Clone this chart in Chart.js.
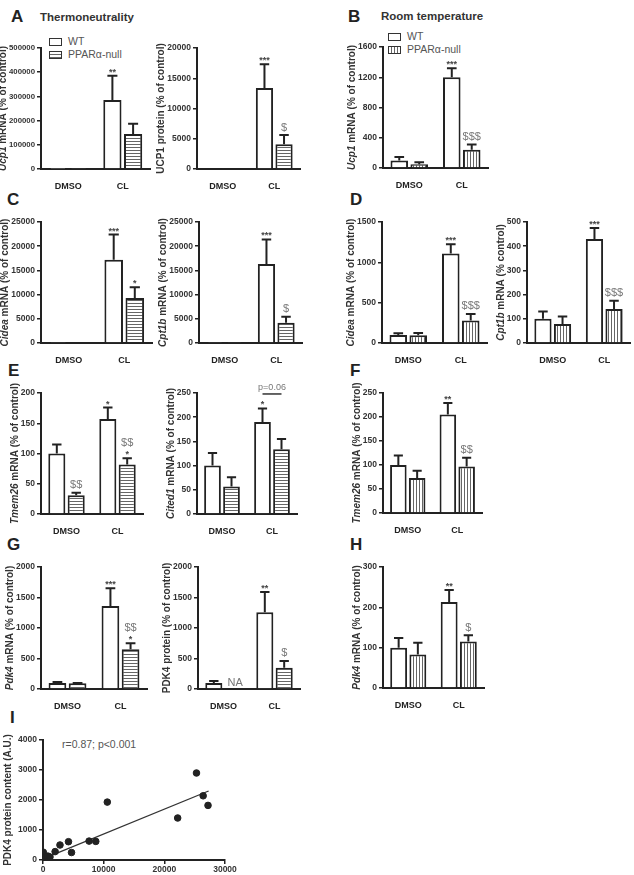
<!DOCTYPE html>
<html>
<head>
<meta charset="utf-8">
<script src="https://cdn.jsdelivr.net/npm/chart.js@4"></script>
<style>
body{margin:0;background:#fff;width:634px;height:875px;position:relative;overflow:hidden;font-family:"Liberation Sans",Arial,sans-serif}
canvas{position:absolute}
.lt{position:absolute;font-weight:bold;font-size:17px;line-height:17px;color:#222}
.ttl{position:absolute;font-weight:bold;font-size:11.5px;line-height:11.5px;color:#333}
.leg{position:absolute;font-size:10.5px;line-height:13px;color:#555;white-space:nowrap}
.sw{display:inline-block;width:11px;height:6px;border:1.5px solid #333;vertical-align:-1px;margin-right:6px;background:#fff}
.sw.h{background:repeating-linear-gradient(to bottom,#fff 0 2px,#666 2px 3px)}
.sw.v{background:repeating-linear-gradient(to right,#fff 0 2px,#666 2px 3px)}
</style>
</head>
<body>
<div class="lt" style="left:11px;top:8px">A</div>
<div class="ttl" style="left:40px;top:12px">Thermoneutrality</div>
<div class="lt" style="left:348px;top:8px">B</div>
<div class="ttl" style="left:381px;top:11px">Room temperature</div>
<div class="lt" style="left:7px;top:191px">C</div>
<div class="lt" style="left:350px;top:191px">D</div>
<div class="lt" style="left:8px;top:362px">E</div>
<div class="lt" style="left:350px;top:362px">F</div>
<div class="lt" style="left:7px;top:536px">G</div>
<div class="lt" style="left:350px;top:536px">H</div>
<div class="lt" style="left:10px;top:709px">I</div>

<div class="leg" style="left:49px;top:35px"><span class="sw"></span>WT</div>
<div class="leg" style="left:49px;top:48px"><span class="sw h"></span>PPARα-null</div>
<div class="leg" style="left:388px;top:30px"><span class="sw"></span>WT</div>
<div class="leg" style="left:388px;top:43px"><span class="sw v"></span>PPARα-null</div>
<div class="leg" style="left:62px;top:738px">r=0.87; p&lt;0.001</div>

<script>
const groups = ['DMSO', 'CL'];

// A - thermoneutrality
const ucp1TnWt = [100, 285000], ucp1TnWtSem = [0, 100000];
const ucp1TnKo = [100, 145000], ucp1TnKoSem = [0, 42000];
const ucp1ProtWt = [150, 13400], ucp1ProtWtSem = [0, 3900];
const ucp1ProtKo = [150, 4100], ucp1ProtKoSem = [0, 1500];
// B - room temperature
const ucp1RtWt = [100, 1200], ucp1RtWtSem = [45, 120];
const ucp1RtKo = [50, 240], ucp1RtKoSem = [25, 70];
// C
const cideaTnWt = [100, 17200], cideaTnWtSem = [0, 5200];
const cideaTnKo = [150, 9300], cideaTnKoSem = [0, 2200];
const cpt1bTnWt = [100, 16300], cpt1bTnWtSem = [0, 5100];
const cpt1bTnKo = [60, 4200], cpt1bTnKoSem = [0, 1200];
// D
const cideaRtWt = [100, 1110], cideaRtWtSem = [20, 115];
const cideaRtKo = [95, 280], cideaRtKoSem = [30, 80];
const cpt1bRtWt = [100, 430], cpt1bRtWtSem = [30, 45];
const cpt1bRtKo = [78, 140], cpt1bRtKoSem = [32, 35];
// E
const tmem26TnWt = [100, 157], tmem26TnWtSem = [15, 19];
const tmem26TnKo = [31, 82], tmem26TnKoSem = [4, 10];
const cited1TnWt = [100, 190], cited1TnWtSem = [26, 28];
const cited1TnKo = [57, 134], cited1TnKoSem = [19, 21];
// F
const tmem26RtWt = [100, 205], tmem26RtWtSem = [20, 24];
const tmem26RtKo = [73, 97], tmem26RtKoSem = [15, 18];
// G
const pdk4TnWt = [100, 1360], pdk4TnWtSem = [15, 290];
const pdk4TnKo = [95, 650], pdk4TnKoSem = [5, 100];
const pdk4ProtWt = [100, 1260], pdk4ProtWtSem = [30, 330];
const pdk4ProtKo = [null, 350], pdk4ProtKoSem = [0, 110];
// H
const pdk4RtWt = [100, 213], pdk4RtWtSem = [24, 30];
const pdk4RtKo = [83, 115], pdk4RtKoSem = [29, 16];
// I - correlation
const corrX = [0, 50, 400, 800, 1150, 2000, 2800, 4200, 4700, 7600, 8700, 10600, 22200, 25300, 26400, 27200];
const corrY = [30, 260, 120, 130, 100, 280, 500, 610, 250, 630, 620, 1930, 1400, 2900, 2140, 1820];
const fitX = [300, 27300];
const fitY = [60, 2300];

const FONT = '"Liberation Sans", Arial, sans-serif';
const tickFont = {family: FONT, size: 8.5, weight: 'bold'};

function stripes(dir) {
  const c = document.createElement('canvas');
  c.width = 3; c.height = 3;
  const x = c.getContext('2d');
  x.fillStyle = '#fff'; x.fillRect(0, 0, 3, 3);
  x.fillStyle = '#666';
  if (dir === 'h') x.fillRect(0, 2, 3, 1); else x.fillRect(2, 0, 1, 3);
  return x.createPattern(c, 'repeat');
}
const hatch = {h: stripes('h'), v: stripes('v')};

const extras = {
  id: 'extras',
  afterDatasetsDraw(chart, args, o) {
    const ctx = chart.ctx, ys = chart.scales.y;
    ctx.save();
    (o.sem || []).forEach((sem, di) => {
      const meta = chart.getDatasetMeta(di);
      meta.data.forEach((bar, i) => {
        const v = chart.data.datasets[di].data[i];
        if (v == null) return;
        let top = bar.y;
        if (sem[i]) {
          top = ys.getPixelForValue(v + sem[i]);
          const cw = bar.width * 0.55;
          ctx.strokeStyle = '#222'; ctx.lineWidth = 2;
          ctx.beginPath();
          ctx.moveTo(bar.x, bar.y); ctx.lineTo(bar.x, top);
          ctx.moveTo(bar.x - cw / 2, top); ctx.lineTo(bar.x + cw / 2, top);
          ctx.stroke();
        }
        const s = o.sig && o.sig[di] && o.sig[di][i];
        if (s) {
          let yy = top - 2;
          ctx.textAlign = 'center'; ctx.textBaseline = 'bottom';
          s.split('|').reverse().forEach(line => {
            const star = line[0] === '*';
            ctx.font = star ? 'bold 9px ' + FONT : '11px ' + FONT;
            ctx.fillStyle = star ? '#444' : '#777';
            ctx.fillText(line, bar.x, star ? yy + 3 : yy);
            yy -= star ? 8 : 13;
          });
        }
      });
    });
    if (o.pBar) {
      const a = chart.getDatasetMeta(0).data[1], b = chart.getDatasetMeta(1).data[1];
      const y = ys.getPixelForValue(o.pBar.value);
      ctx.strokeStyle = '#333'; ctx.lineWidth = 1.5;
      ctx.beginPath(); ctx.moveTo(a.x, y); ctx.lineTo(b.x, y); ctx.stroke();
      ctx.font = '9px ' + FONT; ctx.fillStyle = '#777';
      ctx.textAlign = 'center'; ctx.textBaseline = 'bottom';
      ctx.fillText(o.pBar.text, (a.x + b.x) / 2, y - 2);
    }
    if (o.na) {
      const el = chart.getDatasetMeta(o.na.di).data[o.na.i];
      ctx.font = '11px ' + FONT; ctx.fillStyle = '#777';
      ctx.textAlign = 'center'; ctx.textBaseline = 'bottom';
      ctx.fillText(o.na.text, el.x + 2, ys.bottom - 1);
    }
    ctx.restore();
  },
  afterDraw(chart, args, o) {
    if (!o.title) return;
    const ctx = chart.ctx, ys = chart.scales.y, area = chart.chartArea;
    ctx.save();
    ctx.font = 'bold ' + ys.options.ticks.font.size + 'px ' + FONT;
    const maxW = Math.max(...ys.ticks.map(t => ctx.measureText(String(t.label)).width));
    const cx = Math.max(2, area.left - 6 - maxW - (o.titleGap ?? 6));
    const cy = (area.top + area.bottom) / 2;
    const segs = o.title.map(([t, f]) => ({t, f: f + ' 10px ' + FONT}));
    let total = 0;
    segs.forEach(s => { ctx.font = s.f; s.w = ctx.measureText(s.t).width; total += s.w; });
    ctx.translate(cx, cy);
    ctx.rotate(-Math.PI / 2);
    ctx.fillStyle = '#333'; ctx.textBaseline = 'middle'; ctx.textAlign = 'left';
    let x = -total / 2;
    segs.forEach(s => { ctx.font = s.f; ctx.fillText(s.t, x, 0); x += s.w; });
    ctx.restore();
  }
};
Chart.register(extras);

function makeChart(rect, config, padR) {
  const padL = Math.min(44, rect.l), padT = 26, padB = 22;
  padR = padR || 6;
  const c = document.createElement('canvas');
  c.width = rect.r - rect.l + padL + padR;
  c.height = rect.b - rect.t + padT + padB;
  c.style.left = (rect.l - padL) + 'px';
  c.style.top = (rect.t - padT) + 'px';
  document.body.appendChild(c);
  config.options.layout = {padding: {top: padT, right: padR, left: 0, bottom: 0}};
  config.options.scales.y.afterFit = s => { s.width = padL; };
  config.options.scales.x.afterFit = s => { s.height = padB; };
  return new Chart(c, config);
}

function barChart(rect, wt, wtSem, ko, koSem, o) {
  const ds = (data, bg) => ({
    data, backgroundColor: bg, borderColor: '#222', borderWidth: 2,
    barPercentage: 0.88, categoryPercentage: 0.76
  });
  return makeChart(rect, {
    type: 'bar',
    data: {labels: groups, datasets: [ds(wt, '#fff'), ds(ko, hatch[o.hatch])]},
    options: {
      responsive: false, animation: false,
      plugins: {
        legend: {display: false}, tooltip: {enabled: false},
        extras: {sem: [wtSem, koSem], sig: [o.wtSig, o.koSig], title: o.title,
                 pBar: o.pBar, na: o.na, titleGap: o.titleGap}
      },
      scales: {
        x: {
          grid: {display: false},
          border: {color: '#222', width: 2},
          ticks: {font: {family: FONT, size: 9, weight: 'bold'}, color: '#222', padding: 4}
        },
        y: {
          min: 0, max: o.max,
          grid: {display: true, drawOnChartArea: false, tickLength: 4, color: '#222', lineWidth: 1.5},
          border: {color: '#222', width: 2},
          ticks: {stepSize: o.step, font: o.tickFont || tickFont, color: '#333', padding: 2, callback: v => String(v)}
        }
      }
    }
  });
}

const mrna = g => [[g, 'italic bold'], [' mRNA (% of control)', 'bold']];

barChart({l: 41, r: 150, t: 48, b: 169}, ucp1TnWt, ucp1TnWtSem, ucp1TnKo, ucp1TnKoSem,
  {max: 500000, step: 100000, hatch: 'h', title: mrna('Ucp1'), wtSig: ['', '**'], koSig: ['', ''],
   tickFont: {family: FONT, size: 7.8, weight: 'bold'}});
barChart({l: 197, r: 300, t: 48, b: 169}, ucp1ProtWt, ucp1ProtWtSem, ucp1ProtKo, ucp1ProtKoSem,
  {max: 20000, step: 5000, hatch: 'h', title: [['UCP1 protein (% of control)', 'bold']], wtSig: ['', '***'], koSig: ['', '$']});
barChart({l: 383, r: 488, t: 47, b: 168}, ucp1RtWt, ucp1RtWtSem, ucp1RtKo, ucp1RtKoSem,
  {max: 1600, step: 400, hatch: 'v', title: mrna('Ucp1'), wtSig: ['', '***'], koSig: ['', '$$$']});

barChart({l: 41, r: 152, t: 222, b: 343}, cideaTnWt, cideaTnWtSem, cideaTnKo, cideaTnKoSem,
  {max: 25000, step: 5000, hatch: 'h', title: mrna('Cidea'), wtSig: ['', '***'], koSig: ['', '*']});
barChart({l: 199, r: 302, t: 222, b: 343}, cpt1bTnWt, cpt1bTnWtSem, cpt1bTnKo, cpt1bTnKoSem,
  {max: 25000, step: 5000, hatch: 'h', title: mrna('Cpt1b'), wtSig: ['', '***'], koSig: ['', '$']});
barChart({l: 382, r: 487, t: 222, b: 343}, cideaRtWt, cideaRtWtSem, cideaRtKo, cideaRtKoSem,
  {max: 1500, step: 500, hatch: 'v', title: mrna('Cidea'), wtSig: ['', '***'], koSig: ['', '$$$']});
barChart({l: 527, r: 630, t: 222, b: 343}, cpt1bRtWt, cpt1bRtWtSem, cpt1bRtKo, cpt1bRtKoSem,
  {max: 500, step: 100, hatch: 'v', title: [['Cpt1b', 'italic bold'], [' mRNA (% control)', 'bold']], wtSig: ['', '***'], koSig: ['', '$$$']}, 3);

barChart({l: 41, r: 143, t: 393, b: 514}, tmem26TnWt, tmem26TnWtSem, tmem26TnKo, tmem26TnKoSem,
  {max: 200, step: 50, hatch: 'h', title: mrna('Tmem26'), wtSig: ['', '*'], koSig: ['$$', '$$|*']});
barChart({l: 197, r: 297, t: 393, b: 514}, cited1TnWt, cited1TnWtSem, cited1TnKo, cited1TnKoSem,
  {max: 250, step: 50, hatch: 'h', title: mrna('Cited1'), wtSig: ['', '*'], koSig: ['', ''],
   pBar: {value: 248, text: 'p=0.06'}});
barChart({l: 383, r: 482, t: 393, b: 513}, tmem26RtWt, tmem26RtWtSem, tmem26RtKo, tmem26RtKoSem,
  {max: 250, step: 50, hatch: 'v', title: mrna('Tmem26'), wtSig: ['', '**'], koSig: ['', '$$']});

barChart({l: 41, r: 147, t: 567, b: 689}, pdk4TnWt, pdk4TnWtSem, pdk4TnKo, pdk4TnKoSem,
  {max: 2000, step: 500, hatch: 'h', title: mrna('Pdk4'), wtSig: ['', '***'], koSig: ['', '$$|*']});
barChart({l: 198, r: 300, t: 567, b: 689}, pdk4ProtWt, pdk4ProtWtSem, pdk4ProtKo, pdk4ProtKoSem,
  {max: 2000, step: 500, hatch: 'h', title: [['PDK4 protein (% of control)', 'bold']], wtSig: ['', '**'], koSig: ['', '$'],
   na: {di: 1, i: 0, text: 'NA'}});
barChart({l: 383, r: 484, t: 567, b: 688}, pdk4RtWt, pdk4RtWtSem, pdk4RtKo, pdk4RtKoSem,
  {max: 300, step: 100, hatch: 'v', title: mrna('Pdk4'), wtSig: ['', '**'], koSig: ['', '$']});

makeChart({l: 43, r: 225, t: 740, b: 860}, {
  type: 'scatter',
  data: {
    datasets: [
      {data: corrX.map((x, i) => ({x, y: corrY[i]})), backgroundColor: '#222', borderColor: '#222', pointRadius: 3.3},
      {type: 'line', data: fitX.map((x, i) => ({x, y: fitY[i]})), borderColor: '#333', borderWidth: 1.3, pointRadius: 0}
    ]
  },
  options: {
    responsive: false, animation: false,
    plugins: {legend: {display: false}, tooltip: {enabled: false},
              extras: {title: [['PDK4 protein content (A.U.)', 'bold']], titleGap: 10}},
    scales: {
      x: {
        type: 'linear', min: 0, max: 30000,
        grid: {display: true, drawOnChartArea: false, tickLength: 4, color: '#222', lineWidth: 1.5},
        border: {color: '#222', width: 2},
        ticks: {stepSize: 10000, font: tickFont, color: '#333', padding: 1, maxRotation: 0, callback: v => String(v)}
      },
      y: {
        min: 0, max: 4000,
        grid: {display: true, drawOnChartArea: false, tickLength: 4, color: '#222', lineWidth: 1.5},
        border: {color: '#222', width: 2},
        ticks: {stepSize: 1000, font: tickFont, color: '#333', padding: 2, callback: v => String(v)}
      }
    }
  }
}, 16);
</script>
</body>
</html>
